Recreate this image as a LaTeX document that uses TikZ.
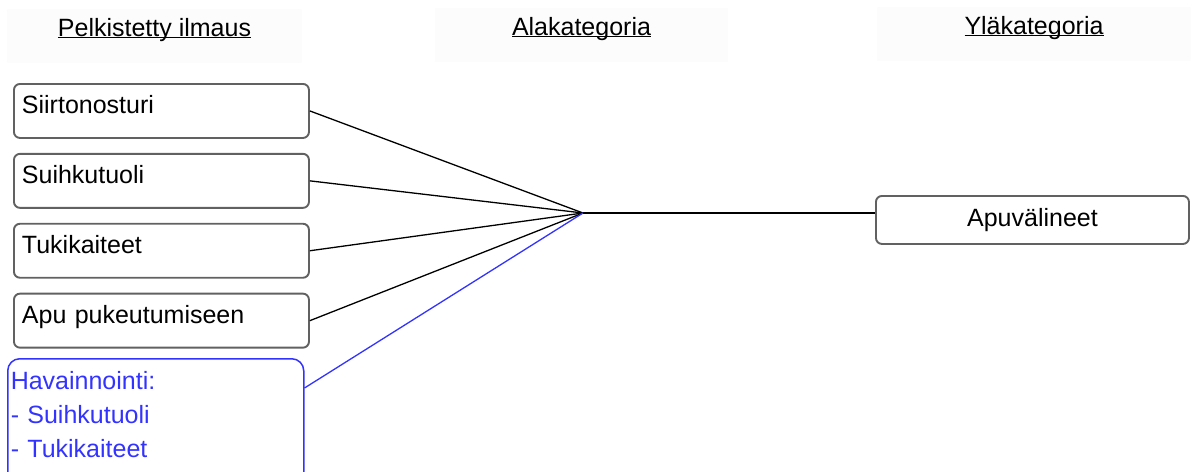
\documentclass[tikz,border=0pt]{standalone}
\usepackage{fontspec}
\setmainfont{Liberation Sans}
\usetikzlibrary{positioning}

\newcommand*{\boxw}{279pt}
\newcommand*{\kfont}{\fontsize{25}{34}\selectfont}
\definecolor{havblue}{RGB}{51,51,255}

\begin{document}
\begin{tikzpicture}
[
	x=1pt,y=-1pt,
	head/.style={fill=black!1,anchor=north,inner ysep=0pt,text height=27pt,text depth=27pt,font=\kfont},
	item/.style={draw=black!62,line width=1.9pt,rounded corners=6pt,anchor=north west,text width=\boxw,align=left,inner xsep=8pt,inner ysep=0pt,text height=30pt,text depth=24pt,font=\kfont},
	cat/.style={draw=black!62,line width=1.9pt,rounded corners=6pt,anchor=north west,minimum width=313pt,minimum height=48pt,font=\kfont},
	link/.style={line width=1.3pt}
]

	\useasboundingbox (0,0) rectangle (1196,471);

	% otsikot
	\node[head,minimum width=295pt] (hpelk) at (154.5,9) {\underline{\smash{Pelkistetty ilmaus}}};
	\node[head,minimum width=293pt] (hala) at (581.5,8) {\underline{\smash{Alakategoria}}};
	\node[head,minimum width=314pt] (hyla) at (1034,7) {\underline{\smash{Yläkategoria}}};

	% pelkistetyt ilmaukset
	\node[item] (siirto) at (13,83) {Siirtonosturi};
	\node[item,below=14pt of siirto] (suihku) {Suihkutuoli};
	\node[item,below=14pt of suihku] (tuki) {Tukikaiteet};
	\node[item,below=14pt of tuki] (pukeutu) {Apu pukeutumiseen};
	\node[item,draw=havblue,text=havblue,line width=1.5pt,rounded corners=12pt,text width=290pt,inner xsep=3pt,text height=31pt,text depth=100pt] (hav) at (7,358)
	  {Havainnointi:\\- Suihkutuoli\\- Tukikaiteet};

	% alakategoria ja yläkategoria
	\coordinate (ala) at (583,213);
	\node[cat] (apu) at (875,195) {Apuvälineet};

	\foreach \n in {siirto,suihku,tuki,pukeutu} {
		\draw[link] (\n.east) -- (ala);
	}
	\draw[link,havblue] ([yshift=-30pt]hav.north east) -- (ala);
	\draw[link] (ala) -- (ala -| apu.west);

\end{tikzpicture}
\end{document}
